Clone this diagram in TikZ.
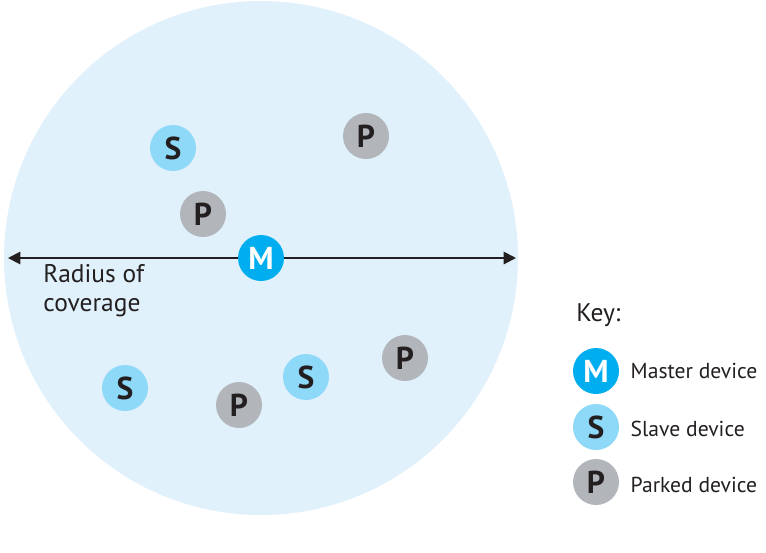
\documentclass[tikz,border=0pt]{standalone}
\usepackage{fontspec}
\setmainfont{PT Sans}
\usepackage{tikz}
\usetikzlibrary{arrows.meta,positioning}
\definecolor{covblue}  {RGB}{224,241,251}
\definecolor{mstblue}  {RGB}{0,174,239}
\definecolor{slvblue}  {RGB}{142,216,248}
\definecolor{prkgray}  {RGB}{178,182,187}
\definecolor{txtdark}  {RGB}{35,31,32}
\tikzset{
  dev/.style={circle,minimum size=0.92cm,inner sep=0pt,
    font=\fontsize{18}{18}\selectfont\bfseries,text=txtdark},
  devm/.style={dev,fill=mstblue,text=white},
  devs/.style={dev,fill=slvblue},
  devp/.style={dev,fill=prkgray},
  bigtxt/.style={font=\fontsize{14.5}{16.5}\selectfont,text=txtdark,
    anchor=west,inner sep=0pt},
  keytxt/.style={bigtxt,font=\fontsize{12.3}{14}\selectfont},
  arr/.style={{Triangle[length=7pt,width=7pt]}-{Triangle[length=7pt,width=7pt]},
    line width=1.1pt,color=txtdark},
}
\begin{document}
\begin{tikzpicture}[x=0.02cm,y=-0.02cm]
  \useasboundingbox (0,0) rectangle (766,552);
  % coverage area
  \fill[covblue] (261,258) circle (257);
  \coordinate (lend) at (8,258);
  \coordinate (rend) at (516,258);
  \draw[arr] (lend) -- (rend);
  % devices
  \node[devm] (m)  at (261,258) {M};
  \node[devs] (s1) at (173,148) {S};
  \node[devp] (p1) at (366,136) {P};
  \node[devp] (p2) at (203,214) {P};
  \node[devs] (s2) at (125,388) {S};
  \node[devp] (p3) at (239,405) {P};
  \node[devs] (s3) at (306,377) {S};
  \node[devp] (p4) at (405,358) {P};
  \node[bigtxt,align=left,anchor=north west]
    (radius) at (43,264) {Radius of\\coverage};
  % key
  \node[bigtxt] (key) at (576,315) {Key:};
  \node[devm] (km) at (596,371) {M};
  \node[devs] (ks) at (596,427) {S};
  \node[devp] (kp) at (596,482) {P};
  \node[keytxt,right=0.22cm of km] (kml) {Master device};
  \node[keytxt,right=0.22cm of ks,yshift=-1pt] (ksl) {Slave device};
  \node[keytxt,right=0.22cm of kp,yshift=-1.5pt] (kpl) {Parked device};
\end{tikzpicture}
\end{document}
